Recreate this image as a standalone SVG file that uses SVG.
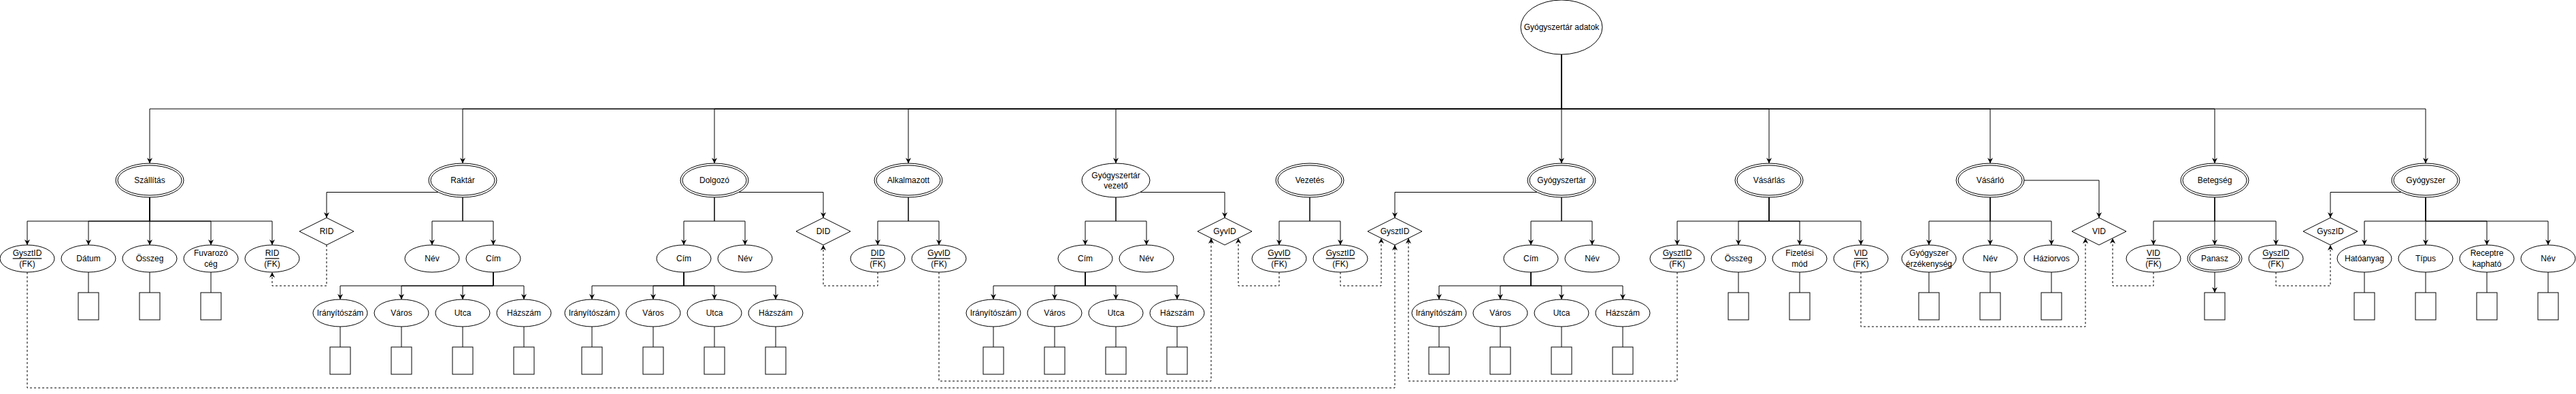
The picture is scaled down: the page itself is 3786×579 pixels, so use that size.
<svg xmlns="http://www.w3.org/2000/svg" width="3786" height="579" viewBox="0 0 3786 579">
<style>
.e{fill:#fff;stroke:#000;stroke-width:1}
.t{font-family:"Liberation Sans",Arial,sans-serif;font-size:12px;text-anchor:middle;dominant-baseline:central;fill:#000}
.u{text-decoration:underline}
.c{fill:none;stroke:#000;stroke-width:1}
.d{stroke-dasharray:3 3}
</style>
<defs>
<marker id="a" viewBox="0 0 10 10" refX="10" refY="5" markerWidth="8" markerHeight="8" markerUnits="userSpaceOnUse" orient="auto">
<path d="M0,0 L10,5 L0,10 L3,5 Z" fill="#000"/>
</marker>
</defs>
<rect width="3786" height="579" fill="#fff"/>
<g id="connectors">
<path class="c" marker-end="url(#a)" d="M2295,80 V160 H220 V240"/>
<path class="c" marker-end="url(#a)" d="M2295,80 V160 H680 V240"/>
<path class="c" marker-end="url(#a)" d="M2295,80 V160 H1050 V240"/>
<path class="c" marker-end="url(#a)" d="M2295,80 V160 H1335 V240"/>
<path class="c" marker-end="url(#a)" d="M2295,80 V160 H1640 V240"/>
<path class="c" marker-end="url(#a)" d="M2295,80 V240"/>
<path class="c" marker-end="url(#a)" d="M2295,80 V160 H2600 V240"/>
<path class="c" marker-end="url(#a)" d="M2295,80 V160 H2925 V240"/>
<path class="c" marker-end="url(#a)" d="M2295,80 V160 H3255 V240"/>
<path class="c" marker-end="url(#a)" d="M2295,80 V160 H3565 V240"/>
<path class="c" marker-end="url(#a)" d="M220,290 V325 H40 V360"/>
<path class="c" marker-end="url(#a)" d="M220,290 V325 H130 V360"/>
<path class="c" marker-end="url(#a)" d="M220,290 V360"/>
<path class="c" marker-end="url(#a)" d="M220,290 V325 H310 V360"/>
<path class="c" marker-end="url(#a)" d="M220,290 V325 H400 V360"/>
<path class="c" d="M130,400 V430 M220,400 V430 M310,400 V430"/>
<path class="c" marker-end="url(#a)" d="M680,290 V325 H635 V360"/>
<path class="c" marker-end="url(#a)" d="M680,290 V325 H725 V360"/>
<path class="c" marker-end="url(#a)" d="M725,400 V420 H500 V440"/>
<path class="c" marker-end="url(#a)" d="M725,400 V420 H590 V440"/>
<path class="c" marker-end="url(#a)" d="M725,400 V420 H680 V440"/>
<path class="c" marker-end="url(#a)" d="M725,400 V420 H770 V440"/>
<path class="c" d="M500,480 V510 M590,480 V510 M680,480 V510 M770,480 V510"/>
<path class="c" marker-end="url(#a)" d="M644.6,282.5 H480 V320"/>
<path class="c" marker-end="url(#a)" d="M1050,290 V325 H1005 V360"/>
<path class="c" marker-end="url(#a)" d="M1050,290 V325 H1095 V360"/>
<path class="c" marker-end="url(#a)" d="M1005,400 V420 H870 V440"/>
<path class="c" marker-end="url(#a)" d="M1005,400 V420 H960 V440"/>
<path class="c" marker-end="url(#a)" d="M1005,400 V420 H1050 V440"/>
<path class="c" marker-end="url(#a)" d="M1005,400 V420 H1140 V440"/>
<path class="c" d="M870,480 V510 M960,480 V510 M1050,480 V510 M1140,480 V510"/>
<path class="c" marker-end="url(#a)" d="M1085.4,282.5 H1210 V320"/>
<path class="c" marker-end="url(#a)" d="M1335,290 V325 H1290 V360"/>
<path class="c" marker-end="url(#a)" d="M1335,290 V325 H1380 V360"/>
<path class="c" marker-end="url(#a)" d="M1640,290 V325 H1595 V360"/>
<path class="c" marker-end="url(#a)" d="M1640,290 V325 H1685 V360"/>
<path class="c" marker-end="url(#a)" d="M1595,400 V420 H1460 V440"/>
<path class="c" marker-end="url(#a)" d="M1595,400 V420 H1550 V440"/>
<path class="c" marker-end="url(#a)" d="M1595,400 V420 H1640 V440"/>
<path class="c" marker-end="url(#a)" d="M1595,400 V420 H1730 V440"/>
<path class="c" d="M1460,480 V510 M1550,480 V510 M1640,480 V510 M1730,480 V510"/>
<path class="c" marker-end="url(#a)" d="M1675.4,282.5 H1800 V320"/>
<path class="c" marker-end="url(#a)" d="M1925,290 V325 H1880 V360"/>
<path class="c" marker-end="url(#a)" d="M1925,290 V325 H1970 V360"/>
<path class="c" marker-end="url(#a)" d="M2295,290 V325 H2250 V360"/>
<path class="c" marker-end="url(#a)" d="M2295,290 V325 H2340 V360"/>
<path class="c" marker-end="url(#a)" d="M2250,400 V420 H2115 V440"/>
<path class="c" marker-end="url(#a)" d="M2250,400 V420 H2205 V440"/>
<path class="c" marker-end="url(#a)" d="M2250,400 V420 H2295 V440"/>
<path class="c" marker-end="url(#a)" d="M2250,400 V420 H2385 V440"/>
<path class="c" d="M2115,480 V510 M2205,480 V510 M2295,480 V510 M2385,480 V510"/>
<path class="c" marker-end="url(#a)" d="M2259.6,282.5 H2050 V320"/>
<path class="c" marker-end="url(#a)" d="M2600,290 V325 H2465 V360"/>
<path class="c" marker-end="url(#a)" d="M2600,290 V325 H2555 V360"/>
<path class="c" marker-end="url(#a)" d="M2600,290 V325 H2645 V360"/>
<path class="c" marker-end="url(#a)" d="M2600,290 V325 H2735 V360"/>
<path class="c" d="M2555,400 V430 M2645,400 V430"/>
<path class="c" marker-end="url(#a)" d="M2925,290 V325 H2835 V360"/>
<path class="c" marker-end="url(#a)" d="M2925,290 V360"/>
<path class="c" marker-end="url(#a)" d="M2925,290 V325 H3015 V360"/>
<path class="c" d="M2835,400 V430 M2925,400 V430 M3015,400 V430"/>
<path class="c" marker-end="url(#a)" d="M2975,265 H3085 V320"/>
<path class="c" marker-end="url(#a)" d="M3255,290 V325 H3165 V360"/>
<path class="c" marker-end="url(#a)" d="M3255,290 V360"/>
<path class="c" marker-end="url(#a)" d="M3255,290 V325 H3345 V360"/>
<path class="c" marker-end="url(#a)" d="M3255,400 V430"/>
<path class="c" marker-end="url(#a)" d="M3565,290 V325 H3475 V360"/>
<path class="c" marker-end="url(#a)" d="M3565,290 V360"/>
<path class="c" marker-end="url(#a)" d="M3565,290 V325 H3655 V360"/>
<path class="c" marker-end="url(#a)" d="M3565,290 V325 H3745 V360"/>
<path class="c" d="M3475,400 V430 M3565,400 V430 M3655,400 V430 M3745,400 V430"/>
<path class="c" marker-end="url(#a)" d="M3529.6,282.5 H3425 V320"/>
<path class="c d" marker-end="url(#a)" d="M40,400 V570 H2050 V360"/>
<path class="c d" marker-end="url(#a)" d="M480,360 V420 H400 V400"/>
<path class="c d" marker-end="url(#a)" d="M1290,400 V420 H1210 V360"/>
<path class="c d" marker-end="url(#a)" d="M1380,400 V560 H1780 V350"/>
<path class="c d" marker-end="url(#a)" d="M1880,400 V420 H1820 V350"/>
<path class="c d" marker-end="url(#a)" d="M1970,400 V420 H2030 V350"/>
<path class="c d" marker-end="url(#a)" d="M2465,400 V560 H2070 V350"/>
<path class="c d" marker-end="url(#a)" d="M2735,400 V480 H3065 V350"/>
<path class="c d" marker-end="url(#a)" d="M3165,400 V420 H3105 V350"/>
<path class="c d" marker-end="url(#a)" d="M3345,400 V420 H3425 V360"/>
</g>
<g id="root"><ellipse class="e" cx="2295" cy="40" rx="60" ry="40"/><text class="t" x="2295" y="40">Gyógyszertár adatok</text></g>
<g id="szallitas"><ellipse class="e" cx="220" cy="265" rx="50" ry="25"/><ellipse class="e" cx="220" cy="265" rx="47" ry="22"/><text class="t" x="220" y="265">Szállítás</text></g>
<g id="raktar"><ellipse class="e" cx="680" cy="265" rx="50" ry="25"/><ellipse class="e" cx="680" cy="265" rx="47" ry="22"/><text class="t" x="680" y="265">Raktár</text></g>
<g id="dolgozo"><ellipse class="e" cx="1050" cy="265" rx="50" ry="25"/><ellipse class="e" cx="1050" cy="265" rx="47" ry="22"/><text class="t" x="1050" y="265">Dolgozó</text></g>
<g id="alkalmazott"><ellipse class="e" cx="1335" cy="265" rx="50" ry="25"/><ellipse class="e" cx="1335" cy="265" rx="47" ry="22"/><text class="t" x="1335" y="265">Alkalmazott</text></g>
<g id="gyv"><ellipse class="e" cx="1640" cy="265" rx="50" ry="25"/><text class="t" x="1640" y="258">Gyógyszertár</text><text class="t" x="1640" y="272.5">vezető</text></g>
<g id="vezetes"><ellipse class="e" cx="1925" cy="265" rx="50" ry="25"/><ellipse class="e" cx="1925" cy="265" rx="47" ry="22"/><text class="t" x="1925" y="265">Vezetés</text></g>
<g id="gyogyszertar"><ellipse class="e" cx="2295" cy="265" rx="50" ry="25"/><ellipse class="e" cx="2295" cy="265" rx="47" ry="22"/><text class="t" x="2295" y="265">Gyógyszertár</text></g>
<g id="vasarlas"><ellipse class="e" cx="2600" cy="265" rx="50" ry="25"/><ellipse class="e" cx="2600" cy="265" rx="47" ry="22"/><text class="t" x="2600" y="265">Vásárlás</text></g>
<g id="vasarlo"><ellipse class="e" cx="2925" cy="265" rx="50" ry="25"/><ellipse class="e" cx="2925" cy="265" rx="47" ry="22"/><text class="t" x="2925" y="265">Vásárló</text></g>
<g id="betegseg"><ellipse class="e" cx="3255" cy="265" rx="50" ry="25"/><ellipse class="e" cx="3255" cy="265" rx="47" ry="22"/><text class="t" x="3255" y="265">Betegség</text></g>
<g id="gyogyszer"><ellipse class="e" cx="3565" cy="265" rx="50" ry="25"/><ellipse class="e" cx="3565" cy="265" rx="47" ry="22"/><text class="t" x="3565" y="265">Gyógyszer</text></g>
<g id="d-rid"><path class="e" d="M440,340 L480,320 L520,340 L480,360 Z"/><text class="t" x="480" y="340">RID</text></g>
<g id="d-did"><path class="e" d="M1170,340 L1210,320 L1250,340 L1210,360 Z"/><text class="t" x="1210" y="340">DID</text></g>
<g id="d-gyvid"><path class="e" d="M1760,340 L1800,320 L1840,340 L1800,360 Z"/><text class="t" x="1800" y="340">GyvID</text></g>
<g id="d-gysztid"><path class="e" d="M2010,340 L2050,320 L2090,340 L2050,360 Z"/><text class="t" x="2050" y="340">GysztID</text></g>
<g id="d-vid"><path class="e" d="M3045,340 L3085,320 L3125,340 L3085,360 Z"/><text class="t" x="3085" y="340">VID</text></g>
<g id="d-gyszid"><path class="e" d="M3385,340 L3425,320 L3465,340 L3425,360 Z"/><text class="t" x="3425" y="340">GyszID</text></g>
<g id="a-szall-gysztid"><ellipse class="e" cx="40" cy="380" rx="40" ry="20"/><text class="t u" x="40" y="372.3">GysztID</text><text class="t" x="40" y="387.7">(FK)</text></g>
<g id="a-szall-datum"><ellipse class="e" cx="130" cy="380" rx="40" ry="20"/><text class="t" x="130" y="380">Dátum</text></g>
<g id="a-szall-osszeg"><ellipse class="e" cx="220" cy="380" rx="40" ry="20"/><text class="t" x="220" y="380">Összeg</text></g>
<g id="a-szall-fuvarozo"><ellipse class="e" cx="310" cy="380" rx="40" ry="20"/><text class="t" x="310" y="372.3">Fuvarozó</text><text class="t" x="310" y="387.7">cég</text></g>
<g id="a-szall-rid"><ellipse class="e" cx="400" cy="380" rx="40" ry="20"/><text class="t u" x="400" y="372.3">RID</text><text class="t" x="400" y="387.7">(FK)</text></g>
<g id="a-rak-nev"><ellipse class="e" cx="635" cy="380" rx="40" ry="20"/><text class="t" x="635" y="380">Név</text></g>
<g id="a-rak-cim"><ellipse class="e" cx="725" cy="380" rx="40" ry="20"/><text class="t" x="725" y="380">Cím</text></g>
<g id="a-dol-cim"><ellipse class="e" cx="1005" cy="380" rx="40" ry="20"/><text class="t" x="1005" y="380">Cím</text></g>
<g id="a-dol-nev"><ellipse class="e" cx="1095" cy="380" rx="40" ry="20"/><text class="t" x="1095" y="380">Név</text></g>
<g id="a-alk-did"><ellipse class="e" cx="1290" cy="380" rx="40" ry="20"/><text class="t u" x="1290" y="372.3">DID</text><text class="t" x="1290" y="387.7">(FK)</text></g>
<g id="a-alk-gyvid"><ellipse class="e" cx="1380" cy="380" rx="40" ry="20"/><text class="t u" x="1380" y="372.3">GyvID</text><text class="t" x="1380" y="387.7">(FK)</text></g>
<g id="a-gyv-cim"><ellipse class="e" cx="1595" cy="380" rx="40" ry="20"/><text class="t" x="1595" y="380">Cím</text></g>
<g id="a-gyv-nev"><ellipse class="e" cx="1685" cy="380" rx="40" ry="20"/><text class="t" x="1685" y="380">Név</text></g>
<g id="a-vez-gyvid"><ellipse class="e" cx="1880" cy="380" rx="40" ry="20"/><text class="t u" x="1880" y="372.3">GyvID</text><text class="t" x="1880" y="387.7">(FK)</text></g>
<g id="a-vez-gysztid"><ellipse class="e" cx="1970" cy="380" rx="40" ry="20"/><text class="t u" x="1970" y="372.3">GysztID</text><text class="t" x="1970" y="387.7">(FK)</text></g>
<g id="a-gyt-cim"><ellipse class="e" cx="2250" cy="380" rx="40" ry="20"/><text class="t" x="2250" y="380">Cím</text></g>
<g id="a-gyt-nev"><ellipse class="e" cx="2340" cy="380" rx="40" ry="20"/><text class="t" x="2340" y="380">Név</text></g>
<g id="a-vas-gysztid"><ellipse class="e" cx="2465" cy="380" rx="40" ry="20"/><text class="t u" x="2465" y="372.3">GysztID</text><text class="t" x="2465" y="387.7">(FK)</text></g>
<g id="a-vas-osszeg"><ellipse class="e" cx="2555" cy="380" rx="40" ry="20"/><text class="t" x="2555" y="380">Összeg</text></g>
<g id="a-vas-fizetes"><ellipse class="e" cx="2645" cy="380" rx="40" ry="20"/><text class="t" x="2645" y="372.3">Fizetési</text><text class="t" x="2645" y="387.7">mód</text></g>
<g id="a-vas-vid"><ellipse class="e" cx="2735" cy="380" rx="40" ry="20"/><text class="t u" x="2735" y="372.3">VID</text><text class="t" x="2735" y="387.7">(FK)</text></g>
<g id="a-vlo-erz"><ellipse class="e" cx="2835" cy="380" rx="40" ry="20"/><text class="t" x="2835" y="372.3">Gyógyszer</text><text class="t" x="2835" y="387.7">érzékenység</text></g>
<g id="a-vlo-nev"><ellipse class="e" cx="2925" cy="380" rx="40" ry="20"/><text class="t" x="2925" y="380">Név</text></g>
<g id="a-vlo-haziorvos"><ellipse class="e" cx="3015" cy="380" rx="40" ry="20"/><text class="t" x="3015" y="380">Háziorvos</text></g>
<g id="a-bet-vid"><ellipse class="e" cx="3165" cy="380" rx="40" ry="20"/><text class="t u" x="3165" y="372.3">VID</text><text class="t" x="3165" y="387.7">(FK)</text></g>
<g id="a-bet-panasz"><ellipse class="e" cx="3255" cy="380" rx="40" ry="20"/><ellipse class="e" cx="3255" cy="380" rx="37" ry="17"/><text class="t" x="3255" y="380">Panasz</text></g>
<g id="a-bet-gyszid"><ellipse class="e" cx="3345" cy="380" rx="40" ry="20"/><text class="t u" x="3345" y="372.3">GyszID</text><text class="t" x="3345" y="387.7">(FK)</text></g>
<g id="a-gy-hatoanyag"><ellipse class="e" cx="3475" cy="380" rx="40" ry="20"/><text class="t" x="3475" y="380">Hatóanyag</text></g>
<g id="a-gy-tipus"><ellipse class="e" cx="3565" cy="380" rx="40" ry="20"/><text class="t" x="3565" y="380">Típus</text></g>
<g id="a-gy-recept"><ellipse class="e" cx="3655" cy="380" rx="40" ry="20"/><text class="t" x="3655" y="372.3">Receptre</text><text class="t" x="3655" y="387.7">kapható</text></g>
<g id="a-gy-nev"><ellipse class="e" cx="3745" cy="380" rx="40" ry="20"/><text class="t" x="3745" y="380">Név</text></g>
<g id="s-rak-irsz"><ellipse class="e" cx="500" cy="460" rx="40" ry="20"/><text class="t" x="500" y="460">Irányítószám</text></g>
<g id="s-rak-varos"><ellipse class="e" cx="590" cy="460" rx="40" ry="20"/><text class="t" x="590" y="460">Város</text></g>
<g id="s-rak-utca"><ellipse class="e" cx="680" cy="460" rx="40" ry="20"/><text class="t" x="680" y="460">Utca</text></g>
<g id="s-rak-hazszam"><ellipse class="e" cx="770" cy="460" rx="40" ry="20"/><text class="t" x="770" y="460">Házszám</text></g>
<g id="s-dol-irsz"><ellipse class="e" cx="870" cy="460" rx="40" ry="20"/><text class="t" x="870" y="460">Irányítószám</text></g>
<g id="s-dol-varos"><ellipse class="e" cx="960" cy="460" rx="40" ry="20"/><text class="t" x="960" y="460">Város</text></g>
<g id="s-dol-utca"><ellipse class="e" cx="1050" cy="460" rx="40" ry="20"/><text class="t" x="1050" y="460">Utca</text></g>
<g id="s-dol-hazszam"><ellipse class="e" cx="1140" cy="460" rx="40" ry="20"/><text class="t" x="1140" y="460">Házszám</text></g>
<g id="s-gyv-irsz"><ellipse class="e" cx="1460" cy="460" rx="40" ry="20"/><text class="t" x="1460" y="460">Irányítószám</text></g>
<g id="s-gyv-varos"><ellipse class="e" cx="1550" cy="460" rx="40" ry="20"/><text class="t" x="1550" y="460">Város</text></g>
<g id="s-gyv-utca"><ellipse class="e" cx="1640" cy="460" rx="40" ry="20"/><text class="t" x="1640" y="460">Utca</text></g>
<g id="s-gyv-hazszam"><ellipse class="e" cx="1730" cy="460" rx="40" ry="20"/><text class="t" x="1730" y="460">Házszám</text></g>
<g id="s-gyt-irsz"><ellipse class="e" cx="2115" cy="460" rx="40" ry="20"/><text class="t" x="2115" y="460">Irányítószám</text></g>
<g id="s-gyt-varos"><ellipse class="e" cx="2205" cy="460" rx="40" ry="20"/><text class="t" x="2205" y="460">Város</text></g>
<g id="s-gyt-utca"><ellipse class="e" cx="2295" cy="460" rx="40" ry="20"/><text class="t" x="2295" y="460">Utca</text></g>
<g id="s-gyt-hazszam"><ellipse class="e" cx="2385" cy="460" rx="40" ry="20"/><text class="t" x="2385" y="460">Házszám</text></g>
<g id="boxes">
<rect class="e" x="115" y="430" width="30" height="40"/>
<rect class="e" x="205" y="430" width="30" height="40"/>
<rect class="e" x="295" y="430" width="30" height="40"/>
<rect class="e" x="2540" y="430" width="30" height="40"/>
<rect class="e" x="2630" y="430" width="30" height="40"/>
<rect class="e" x="2820" y="430" width="30" height="40"/>
<rect class="e" x="2910" y="430" width="30" height="40"/>
<rect class="e" x="3000" y="430" width="30" height="40"/>
<rect class="e" x="3240" y="430" width="30" height="40"/>
<rect class="e" x="3460" y="430" width="30" height="40"/>
<rect class="e" x="3550" y="430" width="30" height="40"/>
<rect class="e" x="3640" y="430" width="30" height="40"/>
<rect class="e" x="3730" y="430" width="30" height="40"/>
<rect class="e" x="485" y="510" width="30" height="40"/>
<rect class="e" x="575" y="510" width="30" height="40"/>
<rect class="e" x="665" y="510" width="30" height="40"/>
<rect class="e" x="755" y="510" width="30" height="40"/>
<rect class="e" x="855" y="510" width="30" height="40"/>
<rect class="e" x="945" y="510" width="30" height="40"/>
<rect class="e" x="1035" y="510" width="30" height="40"/>
<rect class="e" x="1125" y="510" width="30" height="40"/>
<rect class="e" x="1445" y="510" width="30" height="40"/>
<rect class="e" x="1535" y="510" width="30" height="40"/>
<rect class="e" x="1625" y="510" width="30" height="40"/>
<rect class="e" x="1715" y="510" width="30" height="40"/>
<rect class="e" x="2100" y="510" width="30" height="40"/>
<rect class="e" x="2190" y="510" width="30" height="40"/>
<rect class="e" x="2280" y="510" width="30" height="40"/>
<rect class="e" x="2370" y="510" width="30" height="40"/>
</g>
</svg>
